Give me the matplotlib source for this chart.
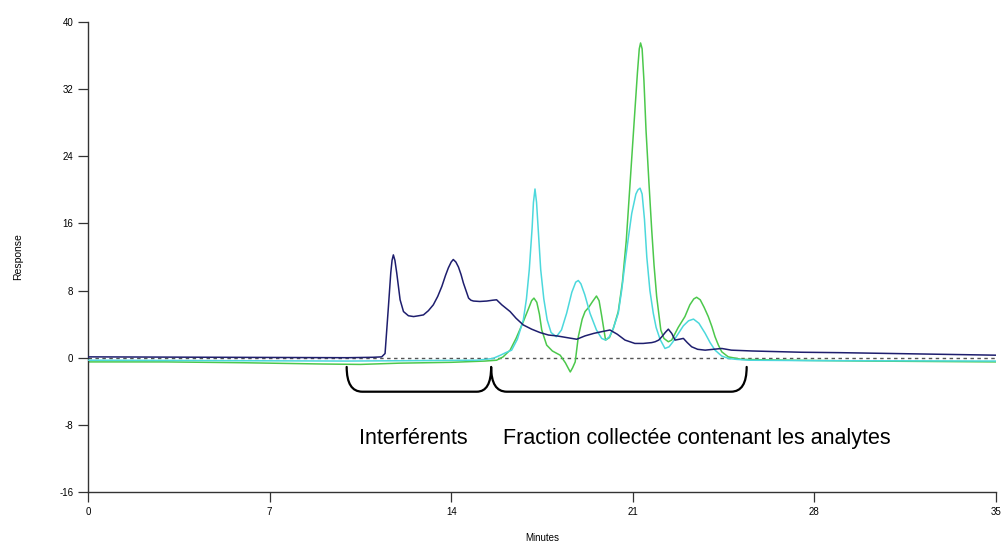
import matplotlib.pyplot as plt
from matplotlib.path import Path
from matplotlib.patches import PathPatch

# navy trace (interferents)
t_navy = [0, 5, 10, 11.0, 11.32, 11.45, 11.58, 11.67, 11.72, 11.77, 11.83, 11.9, 12.03,
          12.16, 12.35, 12.55, 12.75, 12.93, 13.12, 13.31, 13.48, 13.64, 13.78, 13.89,
          14.0, 14.08, 14.18, 14.28, 14.38, 14.47, 14.57, 14.67, 14.76, 14.86, 15.1,
          15.37, 15.6, 15.75, 15.95, 16.27, 16.5, 16.78, 17.1, 17.42, 17.75, 18.07,
          18.45, 18.84, 19.16, 19.5, 19.8, 20.12, 20.4, 20.7, 21.08, 21.4, 21.73, 21.86,
          22.0, 22.12, 22.25, 22.37, 22.5, 22.63, 22.8, 22.95, 23.1, 23.27, 23.5, 23.79,
          24.1, 24.43, 24.8, 25.6, 27.5, 29, 31, 33, 35]
r_navy = [0.1, 0.05, 0.0, 0.05, 0.1, 0.5, 6.1, 10.1, 11.6, 12.25, 11.6, 10.1, 6.9,
          5.5, 5.0, 4.9, 5.0, 5.1, 5.6, 6.3, 7.3, 8.5, 9.8, 10.7,
          11.4, 11.7, 11.4, 10.8, 9.9, 8.9, 8.0, 7.1, 6.85, 6.75, 6.7,
          6.75, 6.85, 6.9, 6.3, 5.5, 4.7, 3.9, 3.4, 3.0, 2.7, 2.6,
          2.4, 2.2, 2.6, 2.9, 3.1, 3.3, 2.8, 2.1, 1.7, 1.7, 1.8, 1.9,
          2.1, 2.5, 3.0, 3.4, 2.9, 2.1, 2.2, 2.3, 1.8, 1.3, 1.0, 0.9,
          1.0, 1.1, 0.9, 0.8, 0.65, 0.6, 0.5, 0.4, 0.3]

# cyan trace
t_cyan = [0, 5, 10, 15.0, 15.6, 15.9, 16.1, 16.33, 16.55, 16.78, 16.9, 17.01, 17.12,
          17.17, 17.23, 17.29, 17.35, 17.45, 17.57, 17.7, 17.85, 18.05, 18.25, 18.45,
          18.65, 18.8, 18.9, 19.0, 19.15, 19.35, 19.6, 19.8, 19.95, 20.1, 20.25, 20.44,
          20.57, 20.7, 20.83, 20.96, 21.12, 21.2, 21.28, 21.36, 21.45, 21.54, 21.66,
          21.79, 21.9, 22.05, 22.24, 22.4, 22.55, 22.76, 22.95, 23.15, 23.34, 23.55,
          23.79, 23.98, 24.17, 24.43, 24.7, 25.0, 25.5, 28, 35]
r_cyan = [-0.3, -0.35, -0.4, -0.3, -0.1, 0.3, 0.6, 0.9, 2.2, 4.5, 7.0, 10.5, 15.5,
          18.5, 20.1, 18.5, 15.5, 10.5, 7.0, 4.5, 3.0, 2.5, 3.3, 5.3,
          7.8, 9.0, 9.2, 8.8, 7.5, 5.3, 3.3, 2.3, 2.1, 2.5, 3.5, 5.3,
          8.0, 11.25, 14.3, 17.2, 19.5, 20.0, 20.2, 19.5, 16.5, 12.0, 8.0,
          5.3, 3.6, 2.2, 1.1, 1.3, 1.9, 2.9, 3.8, 4.4, 4.6, 4.1,
          2.9, 1.8, 0.9, 0.2, -0.1, -0.2, -0.3, -0.35, -0.4]

# green trace
t_green = [0, 3, 6, 9, 10.5, 12, 14, 15.3, 15.75, 16.0, 16.27, 16.5, 16.78, 17.0,
           17.1, 17.19, 17.3, 17.4, 17.49, 17.68, 17.9, 18.2, 18.4, 18.52, 18.59,
           18.68, 18.78, 18.9, 19.05, 19.16, 19.3, 19.45, 19.6, 19.7, 19.8, 19.95,
           20.1, 20.25, 20.44, 20.6, 20.75, 20.9, 21.05, 21.18, 21.25, 21.3, 21.36,
           21.43, 21.51, 21.62, 21.73, 21.82, 21.92, 22.08, 22.2, 22.37, 22.5, 22.75,
           23.01, 23.2, 23.35, 23.46, 23.6, 23.75, 23.91, 24.05, 24.17, 24.3, 24.43,
           24.68, 25.2, 27, 30, 35]
r_green = [-0.5, -0.5, -0.6, -0.75, -0.8, -0.65, -0.55, -0.4, -0.3, 0.1, 0.9, 2.3, 4.3, 6.0,
           6.8, 7.1, 6.6, 5.2, 3.3, 1.5, 0.8, 0.3, -0.6, -1.3, -1.7,
           -1.2, -0.5, 2.5, 4.6, 5.5, 6.0, 6.7, 7.35, 6.8, 5.0, 2.1,
           2.4, 3.5, 5.5, 9.0, 14.0, 21.0, 28.0, 34.0, 36.8, 37.5, 36.8,
           33.0, 27.1, 21.0, 15.2, 11.0, 7.3, 3.3, 2.3, 1.9, 2.1, 3.6,
           4.9, 6.3, 7.0, 7.2, 6.9, 6.0, 4.9, 3.7, 2.5, 1.5, 0.7,
           0.1, -0.2, -0.3, -0.4, -0.5]

x_ticks = [0, 7, 14, 21, 28, 35]
y_ticks = [-16, -8, 0, 8, 16, 24, 32, 40]

# brace under the baseline: (start, cusp, end) in minutes
brace_left, brace_mid, brace_right = 9.97, 15.54, 25.39

plt.rcParams['font.family'] = ['Liberation Sans', 'DejaVu Sans']
plt.rcParams['axes.unicode_minus'] = False

fig = plt.figure(figsize=(10.05, 5.48), dpi=100)
ax = fig.add_axes([0.0876, 0.1022, 0.9034, 0.8577])

ax.axhline(0, color='#555555', lw=1.0, ls=(0, (2.5, 2.5)), zorder=1)
ax.plot(t_navy, r_navy, color='#1e1e6e', lw=1.1, zorder=4)
ax.plot(t_green, r_green, color='#4cc84c', lw=1.1, zorder=2)
ax.plot(t_cyan, r_cyan, color='#4cd8dc', lw=1.1, zorder=3)

# brace drawn as a path
top, bot = -1.1, -4.05
verts = [(brace_left, top), (brace_left, bot), (brace_left + 0.6, bot),
         (brace_mid - 0.55, bot),
         (brace_mid, bot), (brace_mid, top),
         (brace_mid, bot), (brace_mid + 0.6, bot),
         (brace_right - 0.6, bot),
         (brace_right, bot), (brace_right, top)]
codes = [Path.MOVETO, Path.CURVE3, Path.CURVE3,
         Path.LINETO,
         Path.CURVE3, Path.CURVE3,
         Path.CURVE3, Path.CURVE3,
         Path.LINETO,
         Path.CURVE3, Path.CURVE3]
ax.add_patch(PathPatch(Path(verts, codes), fill=False, color='black', lw=1.6,
                       capstyle='round', joinstyle='round', zorder=5))

ax.text(12.55, -9.6, 'Interférents', ha='center', va='center', fontsize=15.5)
ax.text(23.46, -9.6, 'Fraction collectée contenant les analytes',
        ha='center', va='center', fontsize=15.5)

ax.set_xlim(0, 35)
ax.set_ylim(-16, 40)
ax.set_xticks(x_ticks)
ax.set_yticks(y_ticks)
ax.tick_params(direction='out', length=7, width=0.9, labelsize=7, color='#333333')
ax.spines['top'].set_visible(False)
ax.spines['right'].set_visible(False)
for s in ('left', 'bottom'):
    ax.spines[s].set_color('#333333')
    ax.spines[s].set_linewidth(1.0)
fig.text(542 / 1005, 1 - 538 / 548, 'Minutes', fontsize=7, ha='center', va='center')
ax.set_ylabel('Response', fontsize=7.5, labelpad=26)

fig.savefig('out.png', dpi=100)
